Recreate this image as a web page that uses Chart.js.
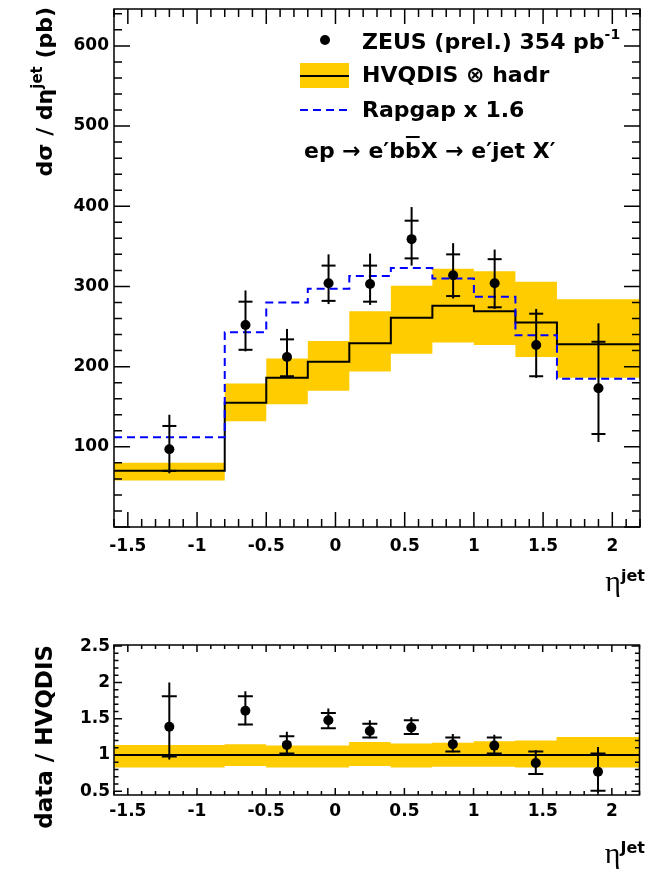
<!DOCTYPE html>
<html>
<head>
<meta charset="utf-8">
<script src="https://cdn.jsdelivr.net/npm/chart.js@4.4.1/dist/chart.umd.min.js"></script>
<style>
  html, body { margin: 0; padding: 0; background: #fff; }
  #wrap { position: relative; width: 649px; height: 872px; }
  canvas { position: absolute; left: 0; }
</style>
</head>
<body>
<div id="wrap">
  <canvas id="xsec" width="649" height="600" style="top:0"></canvas>
  <canvas id="ratio" width="649" height="272" style="top:600px"></canvas>
</div>
<script>
// eta(jet) binning and data point positions
const etaEdges = [-1.6, -0.8, -0.5, -0.2, 0.1, 0.4, 0.7, 1.0, 1.3, 1.6, 2.2];
const etaPoints = [-1.2, -0.65, -0.35, -0.05, 0.25, 0.55, 0.85, 1.15, 1.45, 1.9];

// ZEUS dsigma/deta (pb): value, stat band and total band
const zeusXsec = [97, 252, 212, 304, 303, 359, 314, 304, 227, 173];
const zeusStatUp = [126, 281, 234, 326, 326, 382, 340, 334, 266, 231];
const zeusStatDown = [70, 221, 188, 282, 281, 335, 288, 274, 188, 116];
const zeusTotUp = [140, 295, 247, 340, 341, 399, 354, 346, 272, 254];
const zeusTotDown = [67, 219, 186, 278, 277, 326, 285, 272, 186, 106];

// NLO HVQDIS x hadronisation, with its uncertainty band, and scaled Rapgap
const hvqdis = [70, 155, 186, 206, 229, 261, 276, 269, 255, 228];
const hvqdisUp = [80, 179, 210, 232, 269, 301, 322, 319, 306, 284];
const hvqdisDown = [58, 132, 153, 170, 194, 216, 230, 227, 212, 186];
const rapgap = [112, 243, 280, 297, 313, 323, 310, 287, 239, 185];

// data / HVQDIS
const ratio = [1.39, 1.61, 1.14, 1.48, 1.33, 1.38, 1.15, 1.13, 0.89, 0.77];
const ratioStatUp = [1.81, 1.81, 1.26, 1.58, 1.43, 1.48, 1.24, 1.24, 1.05, 1.02];
const ratioStatDown = [0.98, 1.42, 1.02, 1.37, 1.24, 1.29, 1.05, 1.02, 0.74, 0.51];
const ratioTotUp = [2.0, 1.88, 1.32, 1.64, 1.48, 1.52, 1.29, 1.28, 1.07, 1.11];
const ratioTotDown = [0.94, 1.41, 1.01, 1.36, 1.23, 1.28, 1.04, 1.01, 0.73, 0.48];
const ratioBandUp = [1.14, 1.15, 1.13, 1.13, 1.18, 1.16, 1.17, 1.19, 1.2, 1.25];
const ratioBandDown = [0.83, 0.85, 0.83, 0.83, 0.85, 0.83, 0.84, 0.84, 0.83, 0.83];
const ratioRef = 1;

// axis labels
const etaTicks = [-1.5, -1, -0.5, 0, 0.5, 1, 1.5, 2];
const xsecTicks = [100, 200, 300, 400, 500, 600];
const ratioTicks = [0.5, 1, 1.5, 2, 2.5];

const BAND = '#ffcc00';
const sans = size => `bold ${size}px "DejaVu Sans"`;
const serif = size => `${size}px "Liberation Serif"`;

Chart.defaults.font.family = '"DejaVu Sans"';
Chart.defaults.font.weight = 'bold';
Chart.defaults.color = '#000';

// histogram as a step line: one point per low edge, last value repeated at the upper edge
const stepData = vals => etaEdges.map((x, i) => ({ x, y: vals[Math.min(i, vals.length - 1)] }));

function bandSets(up, down) {
    return [
        { type: 'line', data: stepData(up), stepped: 'before', borderColor: 'rgba(0,0,0,0)', borderWidth: 0, pointRadius: 0, fill: false, order: 4 },
        { type: 'line', data: stepData(down), stepped: 'before', borderColor: 'rgba(0,0,0,0)', borderWidth: 0, pointRadius: 0, fill: '-1', backgroundColor: BAND, order: 4 }
    ];
}

function errorSets(val, statUp, statDown, totUp, totDown, capRadius) {
    const sets = etaPoints.map((x, i) => ({
        type: 'line',
        data: [{ x, y: totDown[i] }, { x, y: totUp[i] }],
        borderColor: '#000', borderWidth: 2, pointRadius: 0, order: 1
    }));
    sets.push({
        type: 'scatter',
        data: etaPoints.map((x, i) => ({ x, y: statUp[i] })).concat(etaPoints.map((x, i) => ({ x, y: statDown[i] }))),
        pointStyle: 'line', pointRadius: capRadius, borderColor: '#000', borderWidth: 2, order: 1
    });
    sets.push({
        type: 'scatter',
        data: etaPoints.map((x, i) => ({ x, y: val[i] })),
        pointStyle: 'circle', pointRadius: 5, backgroundColor: '#000', borderWidth: 0, order: 0
    });
    return sets;
}

// ROOT style frame with ticks on all four sides, pointing inwards
function drawFrame(chart, cfg) {
    const ctx = chart.ctx, a = chart.chartArea, xs = chart.scales.x, ys = chart.scales.y;
    ctx.save();
    ctx.strokeStyle = '#000';
    ctx.lineWidth = 1.5;
    ctx.beginPath();
    const isMajor = (v, step) => Math.abs(v / step - Math.round(v / step)) < 1e-6;
    for (let n = Math.ceil(xs.min / cfg.xMinor - 1e-6); n <= Math.floor(xs.max / cfg.xMinor + 1e-6); n++) {
        const v = n * cfg.xMinor;
        const len = isMajor(v, cfg.xMajor) ? cfg.xMajLen : cfg.xMinLen;
        const px = xs.getPixelForValue(v);
        ctx.moveTo(px, a.bottom); ctx.lineTo(px, a.bottom - len);
        ctx.moveTo(px, a.top); ctx.lineTo(px, a.top + len);
    }
    for (let n = Math.ceil(ys.min / cfg.yMinor - 1e-6); n <= Math.floor(ys.max / cfg.yMinor + 1e-6); n++) {
        const v = n * cfg.yMinor;
        const len = isMajor(v, cfg.yMajor) ? cfg.yMajLen : cfg.yMinLen;
        const py = ys.getPixelForValue(v);
        ctx.moveTo(a.left, py); ctx.lineTo(a.left + len, py);
        ctx.moveTo(a.right, py); ctx.lineTo(a.right - len, py);
    }
    ctx.stroke();
    ctx.strokeRect(a.left, a.top, a.right - a.left, a.bottom - a.top);
    ctx.restore();
}

// text made of pieces with their own font and baseline shift (superscripts, overlines)
function drawRich(ctx, parts, x, y, align) {
    let w = 0;
    parts.forEach(p => { ctx.font = p.font; p.w = ctx.measureText(p.text).width; w += p.w; });
    let cx = align === 'right' ? x - w : x;
    ctx.textAlign = 'left';
    ctx.textBaseline = 'alphabetic';
    ctx.fillStyle = '#000';
    parts.forEach(p => {
        ctx.font = p.font;
        ctx.fillText(p.text, cx, y + (p.dy || 0));
        if (p.overline) ctx.fillRect(cx + 1, y - p.overline, p.w - 2, 2);
        cx += p.w;
    });
}

function drawVertical(ctx, parts, x, y) {
    ctx.save();
    ctx.translate(x, y);
    ctx.rotate(-Math.PI / 2);
    drawRich(ctx, parts, 0, 0, 'right');
    ctx.restore();
}

function scaleOptions(min, max, ticks, labelPad, axisSize, horizontal) {
    return {
        type: 'linear', min, max,
        grid: { display: false, drawTicks: false },
        border: { display: false },
        afterBuildTicks: s => { s.ticks = ticks.map(v => ({ value: v })); },
        afterFit: s => {
            // keep the plot frame exactly where the layout padding puts it
            if (horizontal) s.height = axisSize; else s.width = axisSize;
            s.paddingTop = s.paddingBottom = s.paddingLeft = s.paddingRight = 0;
        },
        ticks: { autoSkip: false, maxRotation: 0, padding: labelPad, color: '#000', font: { size: 17, weight: 'bold' }, callback: v => String(v) }
    };
}

const baseOptions = {
    responsive: false,
    animation: false,
    events: [],
    devicePixelRatio: 1,
    plugins: { legend: { display: false }, tooltip: { enabled: false } }
};

// upper panel: cross section
new Chart(document.getElementById('xsec'), {
    type: 'scatter',
    data: {
        datasets: [
            ...errorSets(zeusXsec, zeusStatUp, zeusStatDown, zeusTotUp, zeusTotDown, 7),
            { type: 'line', data: stepData(rapgap), stepped: 'before', borderColor: '#0000ff', borderWidth: 2, borderDash: [8, 5], pointRadius: 0, order: 2 },
            { type: 'line', data: stepData(hvqdis), stepped: 'before', borderColor: '#000', borderWidth: 2, pointRadius: 0, order: 3 },
            ...bandSets(hvqdisUp, hvqdisDown)
        ]
    },
    options: {
        ...baseOptions,
        layout: { padding: { top: 6, right: 3, left: 0, bottom: 0 } },
        scales: {
            x: scaleOptions(-1.6, 2.2, etaTicks, 9, 73, true),
            y: scaleOptions(0, 646, xsecTicks, 5, 114, false)
        }
    },
    plugins: [{
        id: 'xsecDecor',
        afterDatasetsDraw(chart) {
            const ctx = chart.ctx;
            drawFrame(chart, { xMinor: 0.1, xMajor: 0.5, xMajLen: 15, xMinLen: 8, yMinor: 20, yMajor: 100, yMajLen: 16, yMinLen: 8 });

            drawVertical(ctx, [
                { text: 'dσ / dη', font: sans(22) },
                { text: 'jet', font: sans(15), dy: -10 },
                { text: ' (pb)', font: sans(22) }
            ], 52, 7);
            drawRich(ctx, [{ text: 'η', font: serif(30) }, { text: 'jet', font: sans(16), dy: -10 }], 645, 591, 'right');

            // legend
            ctx.save();
            ctx.fillStyle = '#000';
            ctx.beginPath();
            ctx.arc(325, 40, 5, 0, Math.PI * 2);
            ctx.fill();
            ctx.fillStyle = BAND;
            ctx.fillRect(300, 63, 49, 25);
            ctx.strokeStyle = '#000';
            ctx.lineWidth = 2;
            ctx.beginPath();
            ctx.moveTo(300, 76); ctx.lineTo(349, 76);
            ctx.stroke();
            ctx.strokeStyle = '#0000ff';
            ctx.setLineDash([8, 5]);
            ctx.beginPath();
            ctx.moveTo(300, 110); ctx.lineTo(349, 110);
            ctx.stroke();
            ctx.restore();

            drawRich(ctx, [{ text: 'ZEUS (prel.) 354 pb', font: sans(22) }, { text: '-1', font: sans(14), dy: -10 }], 362, 49);
            drawRich(ctx, [{ text: 'HVQDIS ⊗ hadr', font: sans(22) }], 362, 82);
            drawRich(ctx, [{ text: 'Rapgap x 1.6', font: sans(22) }], 362, 117);
            drawRich(ctx, [
                { text: 'ep → e′b', font: sans(22) },
                { text: 'b', font: sans(22), overline: 22 },
                { text: 'X → e′jet X′', font: sans(22) }
            ], 304, 158);
        }
    }]
});

// lower panel: data / HVQDIS
new Chart(document.getElementById('ratio'), {
    type: 'scatter',
    data: {
        datasets: [
            ...errorSets(ratio, ratioStatUp, ratioStatDown, ratioTotUp, ratioTotDown, 7.5),
            { type: 'line', data: [{ x: etaEdges[0], y: ratioRef }, { x: etaEdges[etaEdges.length - 1], y: ratioRef }], borderColor: '#000', borderWidth: 2, pointRadius: 0, order: 3 },
            ...bandSets(ratioBandUp, ratioBandDown)
        ]
    },
    options: {
        ...baseOptions,
        layout: { padding: { top: 45, right: 3, left: 0, bottom: 0 } },
        scales: {
            x: scaleOptions(-1.6, 2.2, etaTicks, 6, 77, true),
            y: scaleOptions(0.45, 2.515, ratioTicks, 4, 114, false)
        }
    },
    plugins: [{
        id: 'ratioDecor',
        afterDatasetsDraw(chart) {
            const ctx = chart.ctx;
            drawFrame(chart, { xMinor: 0.1, xMajor: 0.5, xMajLen: 7, xMinLen: 4, yMinor: 0.1, yMajor: 0.5, yMajLen: 8, yMinLen: 4.5 });
            drawVertical(ctx, [{ text: 'data / HVQDIS', font: sans(23) }], 52, 45);
            drawRich(ctx, [{ text: 'η', font: serif(30) }, { text: 'Jet', font: sans(16), dy: -10 }], 645, 263, 'right');
        }
    }]
});
</script>
</body>
</html>
